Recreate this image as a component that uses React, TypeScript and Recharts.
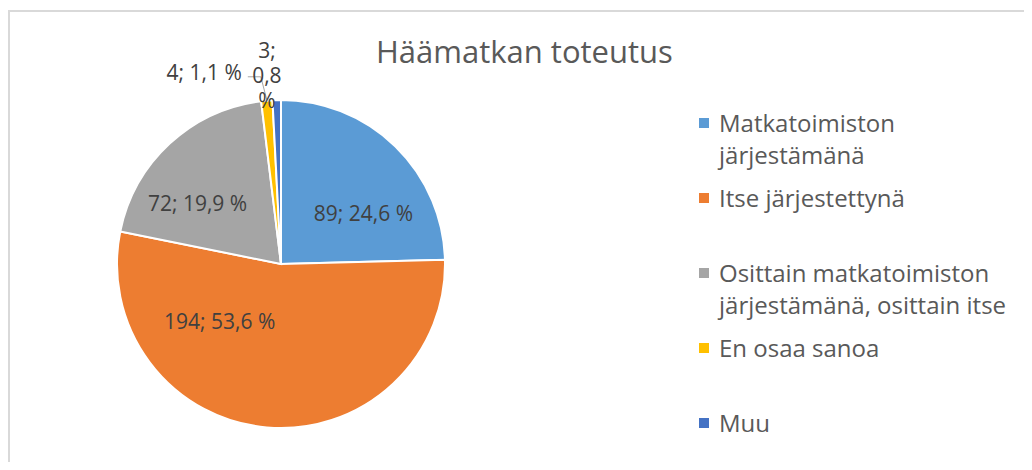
import React from 'react';
import { Cell, Legend, Pie, PieChart, PieLabelRenderProps } from 'recharts';

const categories = [
    'Matkatoimiston järjestämänä',
    'Itse järjestettynä',
    'Osittain matkatoimiston järjestämänä, osittain itse',
    'En osaa sanoa',
    'Muu',
];
const counts = [89, 194, 72, 4, 3];
const percents = ['24,6', '53,6', '19,9', '1,1', '0,8'];
const colors = ['#5B9BD5', '#ED7D31', '#A5A5A5', '#FFC000', '#4472C4'];

const data = categories.map((name, i) => ({ name, value: counts[i], pct: percents[i] }));

const FONT = '"Open Sans", "Noto Sans", sans-serif';

// label offsets relative to centre, as a fraction of the radius
const LABEL_OFFSETS: [number, number][] = [
    [0.503, -0.313],
    [-0.374, 0.35],
    [-0.509, -0.374],
    [-0.239, -1.172],
    [-0.086, -1.307],
];

const renderLabel = (props: PieLabelRenderProps) => {
    const { cx, cy, outerRadius, index } = props as any;
    const i = index as number;
    const r = outerRadius as number;
    const [fx, fy] = LABEL_OFFSETS[i];
    const x = cx + fx * r;
    const y = cy + fy * r;
    const d = data[i];
    if (i === 4) {
        return (
            <text x={x} y={y} fill="#404040" fontSize={21} fontFamily={FONT} textAnchor="middle" dominantBaseline="central">
                <tspan x={x} dy={0}>{`${d.value};`}</tspan>
                <tspan x={x} dy={25}>{d.pct}</tspan>
                <tspan x={x} dy={25}>%</tspan>
            </text>
        );
    }
    if (i === 3) {
        return (
            <g>
                <polyline
                    points={`${x + 6},${y + 5} ${x + 19},${y + 5} ${x + 25},${y + 28}`}
                    fill="none"
                    stroke="#A6A6A6"
                    strokeWidth={1}
                />
                <text x={x} y={y} fill="#404040" fontSize={21} fontFamily={FONT} textAnchor="end" dominantBaseline="central">
                    {`${d.value}; ${d.pct} %`}
                </text>
            </g>
        );
    }
    return (
        <text x={x} y={y} fill="#404040" fontSize={21} fontFamily={FONT} textAnchor="middle" dominantBaseline="central">
            {`${d.value}; ${d.pct} %`}
        </text>
    );
};

const LegendContent = () => (
    <div style={{ fontFamily: FONT, color: '#595959', fontSize: 24 }}>
        {data.map((d, i) => (
            <div key={i} style={{ position: 'relative', height: 75, width: 320 }}>
                <div
                    style={{
                        position: 'absolute',
                        left: 0,
                        top: 11,
                        width: 10,
                        height: 10,
                        backgroundColor: colors[i],
                    }}
                />
                <div style={{ position: 'absolute', left: 20, top: 0, width: 300, lineHeight: '32px' }}>{d.name}</div>
            </div>
        ))}
    </div>
);

export default function App() {
    return (
        <div style={{ position: 'relative', margin: -8, width: 1032, height: 470, overflow: 'hidden', background: '#fff' }}>
            <div
                style={{
                    position: 'absolute',
                    left: 8,
                    top: 10,
                    width: 1100,
                    height: 600,
                    borderTop: '2px solid #D9D9D9',
                    borderLeft: '2px solid #D9D9D9',
                }}
            />
            <div
                style={{
                    position: 'absolute',
                    left: 376,
                    top: 30,
                    fontFamily: FONT,
                    fontSize: 31,
                    color: '#595959',
                    whiteSpace: 'nowrap',
                }}
            >
                Häämatkan toteutus
            </div>
            <PieChart
                width={1032}
                height={470}
                margin={{ top: 0, right: 0, bottom: 0, left: 0 }}
                style={{ position: 'absolute', left: 0, top: 0 }}
            >
                <Pie
                    data={data}
                    dataKey="value"
                    nameKey="name"
                    cx={281}
                    cy={264}
                    outerRadius={164}
                    startAngle={90}
                    endAngle={-270}
                    stroke="#FFFFFF"
                    strokeWidth={2}
                    labelLine={false}
                    label={renderLabel}
                    isAnimationActive={false}
                >
                    {data.map((entry, index) => (
                        <Cell key={`cell-${index}`} fill={colors[index]} />
                    ))}
                </Pie>
                <Legend
                    layout="vertical"
                    content={<LegendContent />}
                    wrapperStyle={{ position: 'absolute', left: 699, top: 107, width: 330 }}
                />
            </PieChart>
        </div>
    );
}
